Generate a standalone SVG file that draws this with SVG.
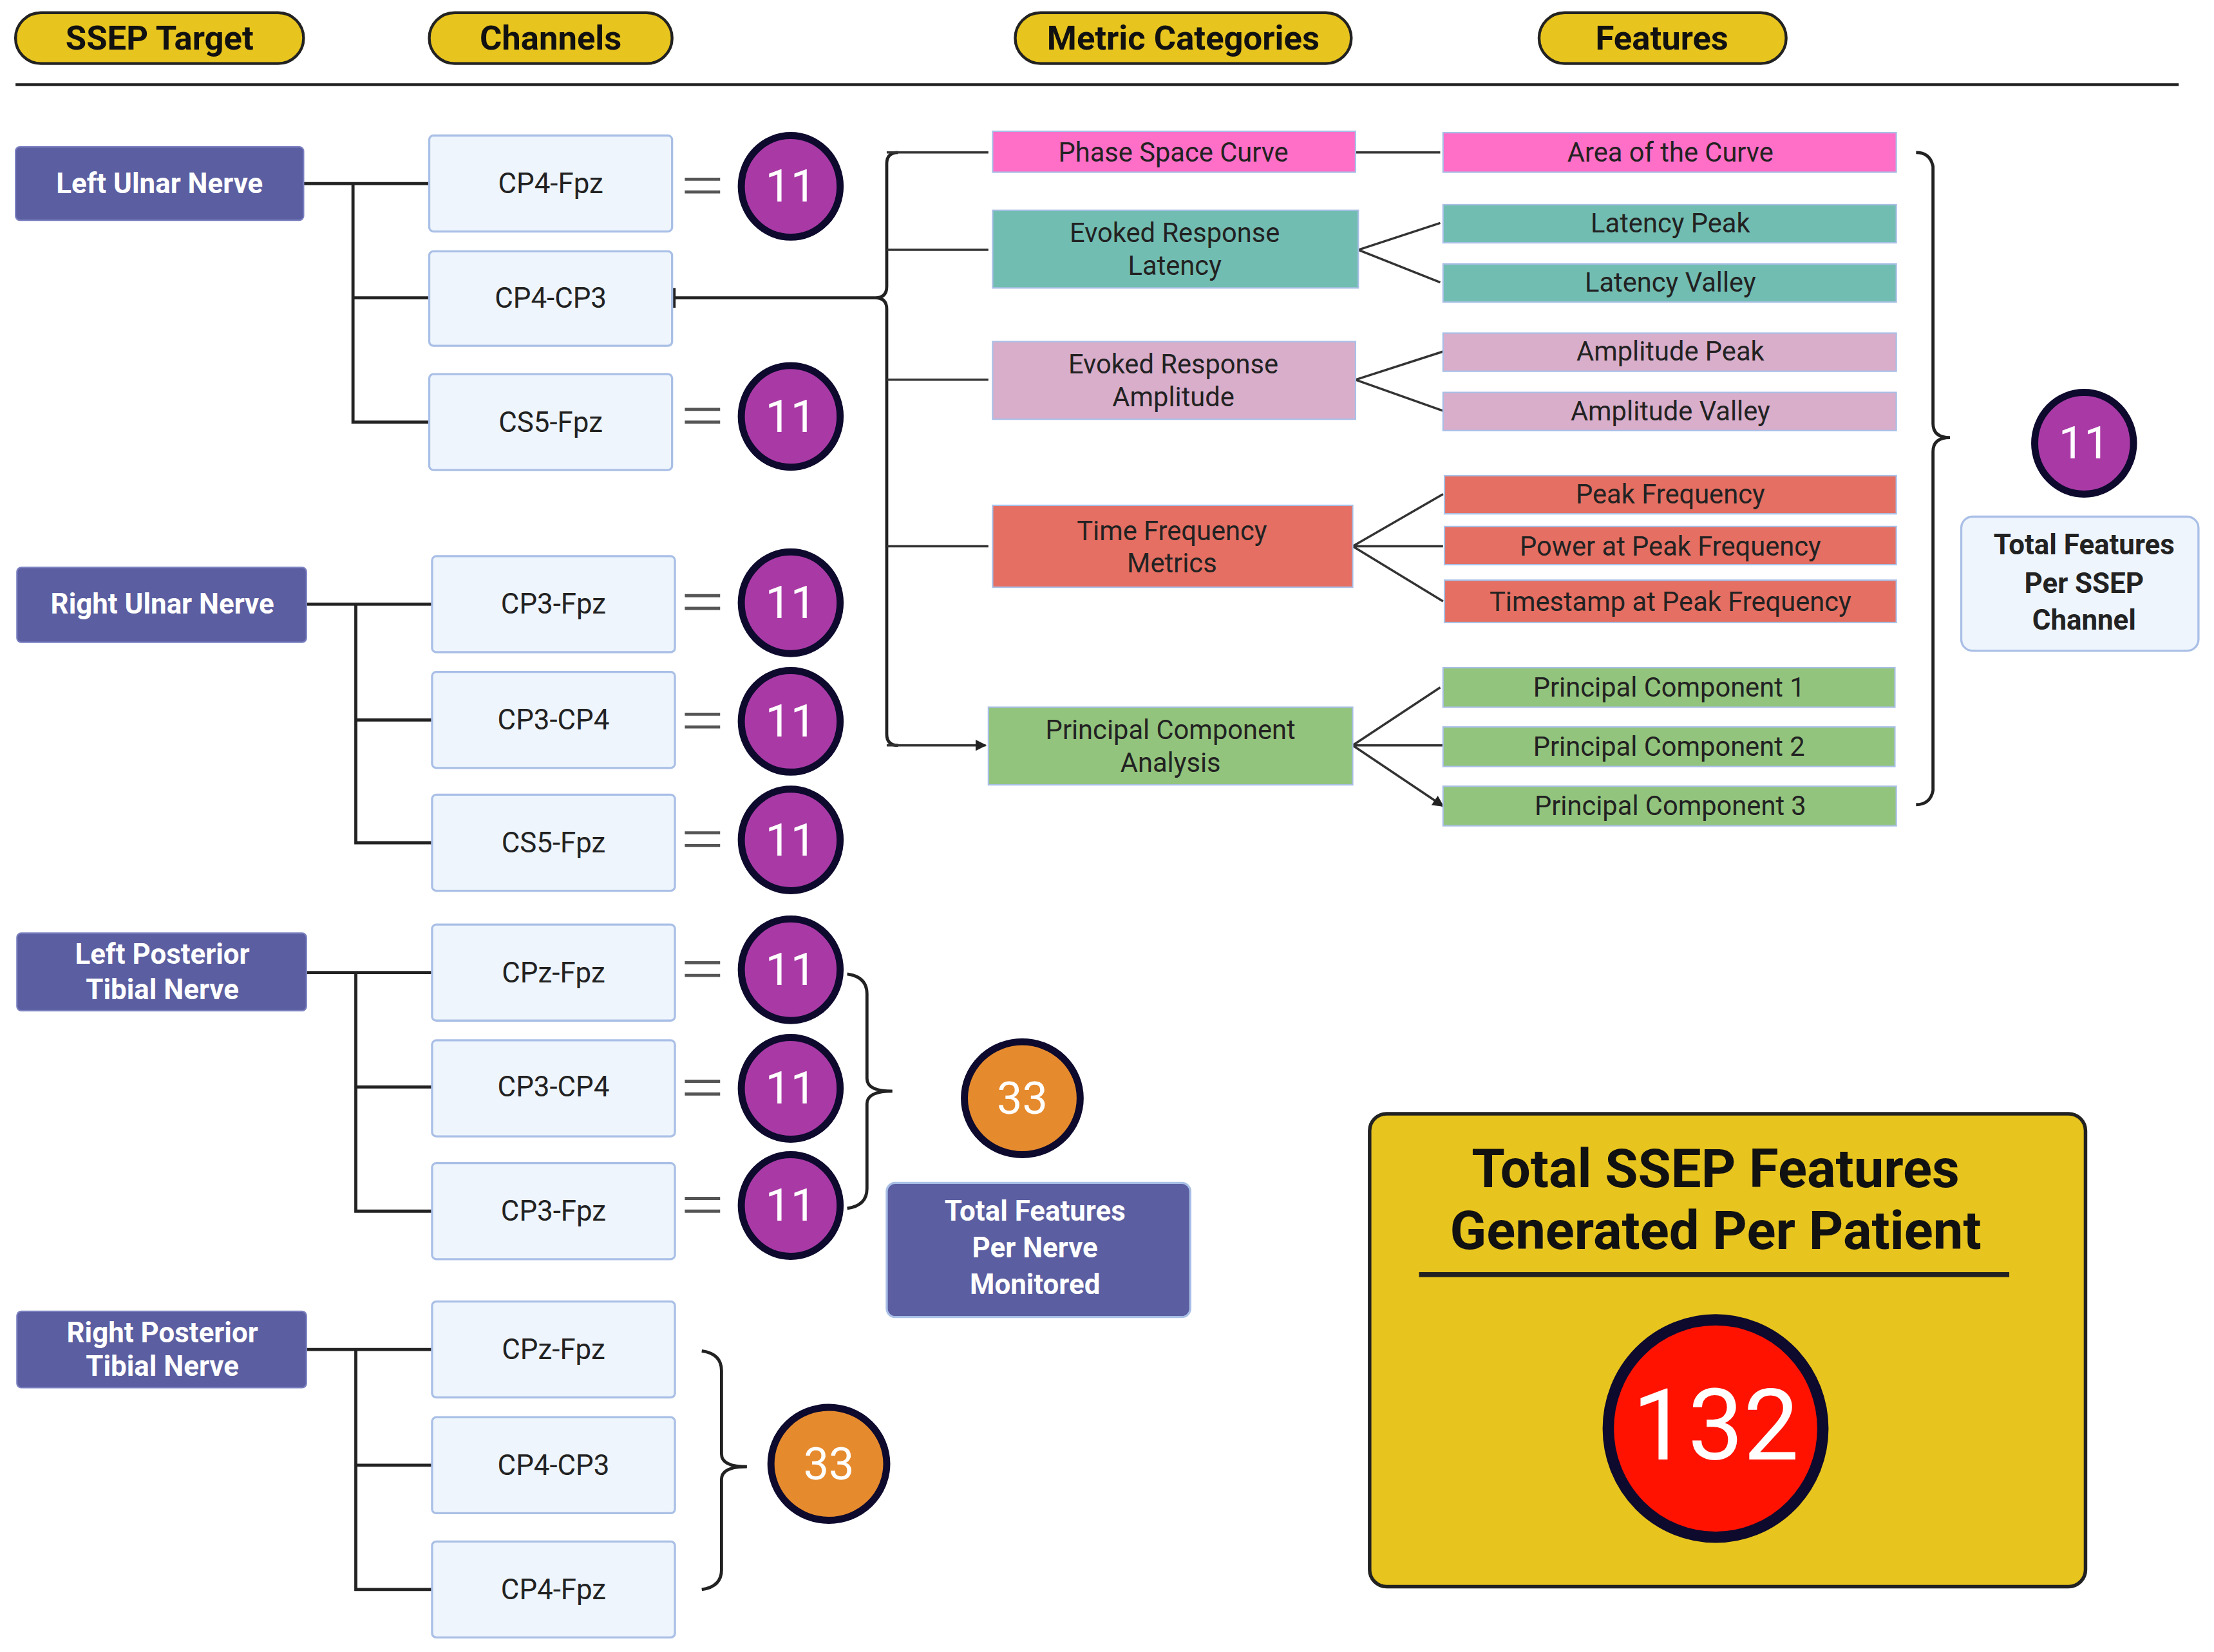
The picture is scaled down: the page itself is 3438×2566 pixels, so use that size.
<svg xmlns="http://www.w3.org/2000/svg" width="3438" height="2566" viewBox="0 0 3438 2566">
<style>
text{font-family:Roboto,"Liberation Sans",sans-serif;text-anchor:middle;dominant-baseline:central}
.pill{fill:#e8c41e;stroke:#222;stroke-width:2}
.ph{font-size:24px;font-weight:bold;fill:#111}
.nerve{fill:#5b5ea0;stroke:#7a80c0;stroke-width:1}
.nt{font-size:20px;font-weight:bold;fill:#fff}
.ch{fill:#eef5fd;stroke:#a9bfe6;stroke-width:1.5}
.ct{font-size:20px;fill:#222}
.c11{fill:#a93aa5;stroke:#0d0a2e;stroke-width:5}
.c11t{font-size:32px;fill:#fff}
.c33{fill:#e68a2e;stroke:#0d0a2e;stroke-width:5}
.ln{fill:none;stroke:#222;stroke-width:2.2}
.ar{fill:none;stroke:#333;stroke-width:1.6;marker-end:url(#ah)}
.ft{font-size:19px;fill:#222}
.box{stroke:#a9bfe6;stroke-width:1}
</style>
<defs>
<marker id="ah" viewBox="0 0 10 10" refX="9" refY="5" markerWidth="5" markerHeight="5" orient="auto"><path d="M0,0L10,5L0,10z" fill="#222"/></marker>
</defs>
<rect width="3438" height="2566" fill="#fff"/>
<g transform="scale(2.1926)">
<g id="headers">
<rect class="pill" x="11" y="9" width="204" height="36" rx="18"/><text class="ph" x="113" y="27">SSEP Target</text>
<rect class="pill" x="304" y="9" width="172" height="36" rx="18"/><text class="ph" x="390" y="27">Channels</text>
<rect class="pill" x="719" y="9" width="238" height="36" rx="18"/><text class="ph" x="838" y="27">Metric Categories</text>
<rect class="pill" x="1090" y="9" width="175" height="36" rx="18"/><text class="ph" x="1177" y="27">Features</text>
<line x1="11" y1="60" x2="1543" y2="60" stroke="#222" stroke-width="2"/>
</g>
<g id="connectors">
<path class="ln" d="M215 130H304M250 130V299H304M250 211H304"/>
<path class="ln" d="M217 428H306M252 428V597H306M252 510H306"/>
<path class="ln" d="M217 689H306M252 689V858H306M252 770H306"/>
<path class="ln" d="M217 956H306M252 956V1126H306M252 1038H306"/>
<path class="ln" d="M476 211H620q8 0 8 -8V116q0 -8 8 -8M620 211q8 0 8 8V520q0 8 8 8"/>
<line x1="477" y1="204" x2="477" y2="218" stroke="#222" stroke-width="3"/>
<path class="ar" d="M628 108H700M628 177H700M628 269H700M628 387H700M628 528H698"/>
<path class="ar" d="M960 108H1020M962 177L1020 158M962 177L1020 200M960 269L1022 249M960 269L1022 291M958 387L1022 350M958 387H1022M958 387L1022 426M958 528L1020 487M958 528H1022M958 528L1022 571"/>
<path class="ln" d="M1357 108q10 0 12 10V300q0 10 12 10q-12 0 -12 10V560q-2 10 -12 10" stroke-width="1.8"/>
<path class="ln" d="M600 690q14 2 14 14V764q0 9 18 9q-18 0 -18 9V842q0 12 -14 14" stroke-width="1.8"/>
<path class="ln" d="M497 957q14 2 14 14V1030q0 9 18 9q-18 0 -18 9V1112q0 12 -14 14" stroke-width="1.8"/>
<g stroke="#555" stroke-width="2.2"><path d="M485 127H510M485 136H510M485 290H510M485 299H510M485 422H510M485 431H510M485 506H510M485 515H510M485 590H510M485 599H510M485 682H510M485 691H510M485 766H510M485 775H510M485 849H510M485 858H510"/></g>
</g>
<g id="nerve-left-ulnar"><rect class="nerve" x="11" y="104" width="204" height="52" rx="3"/><text class="nt" x="113" y="130">Left Ulnar Nerve</text></g>
<g id="nerve-right-ulnar"><rect class="nerve" x="12" y="402" width="205" height="53" rx="3"/><text class="nt" x="115" y="428">Right Ulnar Nerve</text></g>
<g id="nerve-left-post"><rect class="nerve" x="12" y="661" width="205" height="55" rx="3"/><text class="nt" x="115" y="676">Left Posterior</text><text class="nt" x="115" y="701">Tibial Nerve</text></g>
<g id="nerve-right-post"><rect class="nerve" x="12" y="929" width="205" height="54" rx="3"/><text class="nt" x="115" y="944">Right Posterior</text><text class="nt" x="115" y="968">Tibial Nerve</text></g>
<g id="ch1"><rect class="ch" x="304" y="96" width="172" height="68" rx="3"/><text class="ct" x="390" y="130">CP4-Fpz</text></g>
<g id="ch2"><rect class="ch" x="304" y="178" width="172" height="67" rx="3"/><text class="ct" x="390" y="211">CP4-CP3</text></g>
<g id="ch3"><rect class="ch" x="304" y="265" width="172" height="68" rx="3"/><text class="ct" x="390" y="299">CS5-Fpz</text></g>
<g id="ch4"><rect class="ch" x="306" y="394" width="172" height="68" rx="3"/><text class="ct" x="392" y="428">CP3-Fpz</text></g>
<g id="ch5"><rect class="ch" x="306" y="476" width="172" height="68" rx="3"/><text class="ct" x="392" y="510">CP3-CP4</text></g>
<g id="ch6"><rect class="ch" x="306" y="563" width="172" height="68" rx="3"/><text class="ct" x="392" y="597">CS5-Fpz</text></g>
<g id="ch7"><rect class="ch" x="306" y="655" width="172" height="68" rx="3"/><text class="ct" x="392" y="689">CPz-Fpz</text></g>
<g id="ch8"><rect class="ch" x="306" y="737" width="172" height="68" rx="3"/><text class="ct" x="392" y="770">CP3-CP4</text></g>
<g id="ch9"><rect class="ch" x="306" y="824" width="172" height="68" rx="3"/><text class="ct" x="392" y="858">CP3-Fpz</text></g>
<g id="ch10"><rect class="ch" x="306" y="922" width="172" height="68" rx="3"/><text class="ct" x="392" y="956">CPz-Fpz</text></g>
<g id="ch11"><rect class="ch" x="306" y="1004" width="172" height="68" rx="3"/><text class="ct" x="392" y="1038">CP4-CP3</text></g>
<g id="ch12"><rect class="ch" x="306" y="1092" width="172" height="68" rx="3"/><text class="ct" x="392" y="1126">CP4-Fpz</text></g>
<g id="n11-1"><ellipse class="c11" cx="560" cy="132" rx="35" ry="36"/><text class="c11t" x="560" y="132">11</text></g>
<g id="n11-2"><ellipse class="c11" cx="560" cy="295" rx="35" ry="36"/><text class="c11t" x="560" y="295">11</text></g>
<g id="n11-3"><ellipse class="c11" cx="560" cy="427" rx="35" ry="36"/><text class="c11t" x="560" y="427">11</text></g>
<g id="n11-4"><ellipse class="c11" cx="560" cy="511" rx="35" ry="36"/><text class="c11t" x="560" y="511">11</text></g>
<g id="n11-5"><ellipse class="c11" cx="560" cy="595" rx="35" ry="36"/><text class="c11t" x="560" y="595">11</text></g>
<g id="n11-6"><ellipse class="c11" cx="560" cy="687" rx="35" ry="36"/><text class="c11t" x="560" y="687">11</text></g>
<g id="n11-7"><ellipse class="c11" cx="560" cy="771" rx="35" ry="36"/><text class="c11t" x="560" y="771">11</text></g>
<g id="n11-8"><ellipse class="c11" cx="560" cy="854" rx="35" ry="36"/><text class="c11t" x="560" y="854">11</text></g>
<g id="n33-a"><ellipse class="c33" cx="724" cy="778" rx="41" ry="40"/><text class="c11t" x="724" y="778">33</text></g>
<g id="n33-b"><ellipse class="c33" cx="587" cy="1037" rx="41" ry="40"/><text class="c11t" x="587" y="1037">33</text></g>
<g id="per-nerve"><rect x="628" y="838" width="215" height="95" rx="6" fill="#5b5ea0" stroke="#a9bfe6" stroke-width="1.5"/><text class="nt" x="733" y="858">Total Features</text><text class="nt" x="733" y="884">Per Nerve</text><text class="nt" x="733" y="910">Monitored</text></g>
<g id="cat-psc"><rect class="box" x="703" y="93" width="257" height="29" fill="#ff6ec7"/><text class="ft" x="831" y="108">Phase Space Curve</text></g>
<g id="cat-erl"><rect class="box" x="703" y="149" width="259" height="55" fill="#72bdb2"/><text class="ft" x="832" y="165">Evoked Response</text><text class="ft" x="832" y="188">Latency</text></g>
<g id="cat-era"><rect class="box" x="703" y="242" width="257" height="55" fill="#d9aecb"/><text class="ft" x="831" y="258">Evoked Response</text><text class="ft" x="831" y="281">Amplitude</text></g>
<g id="cat-tfm"><rect class="box" x="703" y="358" width="255" height="58" fill="#e46f62"/><text class="ft" x="830" y="376">Time Frequency</text><text class="ft" x="830" y="399">Metrics</text></g>
<g id="cat-pca"><rect class="box" x="700" y="501" width="258" height="55" fill="#93c47d"/><text class="ft" x="829" y="517">Principal Component</text><text class="ft" x="829" y="540">Analysis</text></g>
<g id="f-area"><rect class="box" x="1022" y="94" width="321" height="28" fill="#ff6ec7"/><text class="ft" x="1183" y="108">Area of the Curve</text></g>
<g id="f-lp"><rect class="box" x="1022" y="145" width="321" height="27" fill="#72bdb2"/><text class="ft" x="1183" y="158">Latency Peak</text></g>
<g id="f-lv"><rect class="box" x="1022" y="187" width="321" height="27" fill="#72bdb2"/><text class="ft" x="1183" y="200">Latency Valley</text></g>
<g id="f-ap"><rect class="box" x="1022" y="236" width="321" height="27" fill="#d9aecb"/><text class="ft" x="1183" y="249">Amplitude Peak</text></g>
<g id="f-av"><rect class="box" x="1022" y="278" width="321" height="27" fill="#d9aecb"/><text class="ft" x="1183" y="291">Amplitude Valley</text></g>
<g id="f-pf"><rect class="box" x="1023" y="337" width="320" height="27" fill="#e46f62"/><text class="ft" x="1183" y="350">Peak Frequency</text></g>
<g id="f-pw"><rect class="box" x="1023" y="373" width="320" height="27" fill="#e46f62"/><text class="ft" x="1183" y="387">Power at Peak Frequency</text></g>
<g id="f-ts"><rect class="box" x="1023" y="411" width="320" height="30" fill="#e46f62"/><text class="ft" x="1183" y="426">Timestamp at Peak Frequency</text></g>
<g id="f-pc1"><rect class="box" x="1022" y="473" width="320" height="28" fill="#93c47d"/><text class="ft" x="1182" y="487">Principal Component 1</text></g>
<g id="f-pc2"><rect class="box" x="1022" y="515" width="320" height="28" fill="#93c47d"/><text class="ft" x="1182" y="529">Principal Component 2</text></g>
<g id="f-pc3"><rect class="box" x="1022" y="557" width="321" height="28" fill="#93c47d"/><text class="ft" x="1183" y="571">Principal Component 3</text></g>
<g id="n11-channel"><ellipse class="c11" cx="1476" cy="314" rx="35" ry="36"/><text class="c11t" x="1476" y="314">11</text></g>
<g id="per-channel"><rect class="ch" x="1389" y="366" width="168" height="95" rx="8"/><text class="ct" x="1476" y="386" font-weight="bold" fill="#111">Total Features</text><text class="ct" x="1476" y="413" font-weight="bold" fill="#111">Per SSEP</text><text class="ct" x="1476" y="439" font-weight="bold" fill="#111">Channel</text></g>
<g id="total"><rect x="970" y="789" width="507" height="335" rx="12" fill="#e8c41e" stroke="#222" stroke-width="2.5"/>
<text x="1215" y="828" font-size="38" font-weight="bold" fill="#111">Total SSEP Features</text>
<text x="1215" y="872" font-size="38" font-weight="bold" fill="#111">Generated Per Patient</text>
<line x1="1005" y1="903" x2="1423" y2="903" stroke="#222" stroke-width="3.5"/>
<ellipse cx="1215" cy="1012" rx="76" ry="77" fill="#ff1200" stroke="#0d0a2e" stroke-width="8"/>
<text x="1215" y="1010" font-size="70" fill="#fff">132</text></g>
</g>
</svg>
